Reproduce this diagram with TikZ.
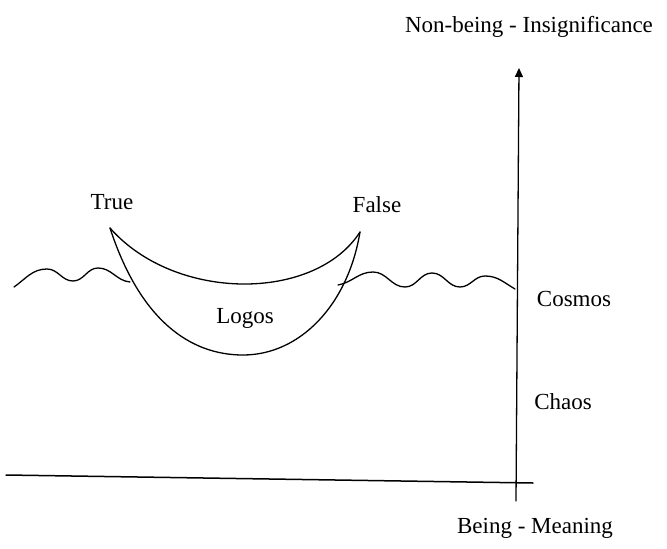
\documentclass[tikz,border=0pt]{standalone}
\usepackage{fontspec}
\setmainfont{Liberation Serif}
\usetikzlibrary{arrows.meta}
\begin{document}
\begin{tikzpicture}[x=1pt,y=-1pt,
  lbl/.style={inner sep=0pt,font=\fontsize{23}{27}\selectfont},
  ln/.style={line width=1.3pt,line cap=round,line join=round}]
\useasboundingbox (0,0) rectangle (667,549);
% labels
\node[lbl] (nonbeing) at (529,27) {Non-being - Insignificance};
\node[lbl] (being) at (535,528) {Being - Meaning};
\node[lbl] (true) at (112,202) {True};
\node[lbl] (false) at (377,205) {False};
\node[lbl] (logos) at (245,318) {Logos};
\node[lbl] (cosmos) at (574,299) {Cosmos};
\node[lbl] (chaos) at (563,402) {Chaos};
% axes
\coordinate (axbot) at (516,501);
\coordinate (axtop) at (519,68);
\coordinate (hleft) at (6,475);
\coordinate (hright) at (533,483);
\draw[ln,-{Triangle[length=9pt,width=8pt]}] (axbot) -- (axtop);
\draw[ln,line width=1.5pt] (hleft) -- (hright);
% boat
\coordinate (tipL) at (110,228);
\coordinate (tipR) at (360,232);
\coordinate (keel) at (243,355);
\draw[ln] (tipL) .. controls (175,302) and (315,302) .. (tipR);
\draw[ln] (tipL) .. controls (140,320) and (190,355) .. (keel)
          .. controls (300,355) and (348,305) .. (tipR);
% waves
\draw[ln] (14,287) to[out=35,in=180] (47,269) to[out=0,in=180] (73,281)
          to[out=0,in=180] (98,268) to[out=0,in=175] (130,282);
\draw[ln] (338,285) to[out=10,in=180] (373,272) to[out=0,in=180] (405,287)
          to[out=0,in=180] (432,273) to[out=0,in=180] (460,287)
          to[out=0,in=180] (485,276) to[out=0,in=150] (515,289);
\end{tikzpicture}
\end{document}
